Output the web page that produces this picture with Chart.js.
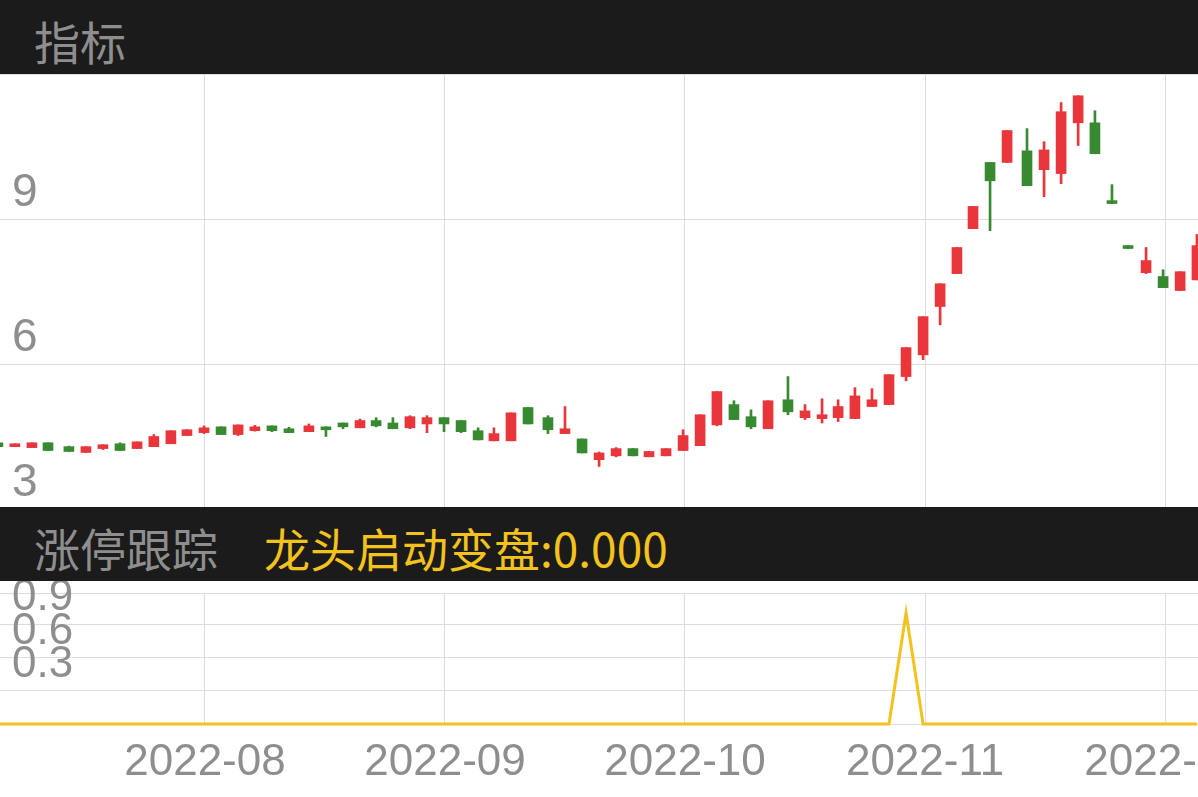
<!DOCTYPE html>
<html>
<head>
<meta charset="utf-8">
<script src="https://cdn.jsdelivr.net/npm/chart.js@4.4.1/dist/chart.umd.min.js"></script>
<style>
    body { margin: 0; width: 1198px; height: 797px; overflow: hidden; position: relative; background: #fff; }
    .band { position: absolute; left: 0; width: 1198px; height: 74px; background: #1b1b1b; z-index: 2;
            font-family: "Noto Sans CJK SC", sans-serif; font-size: 46px; line-height: 74px; white-space: nowrap; }
    .band span { position: absolute; top: 3px; }
    .title { color: #8e8e8e; left: 34px; }
    .value { color: #f4c21d; left: 264px; }
    canvas { position: absolute; left: 0; }
</style>
</head>
<body>
<div class="band" style="top:0"><span class="title">指标</span></div>
<canvas id="klineChart" width="1400" height="435" style="top:74px"></canvas>
<div class="band" style="top:507px"><span class="title">涨停跟踪</span><span class="value">龙头启动变盘:0.000</span></div>
<canvas id="signalChart" width="1400" height="216" style="top:581px"></canvas>

<script>
// Candles: position in months from 2022-08, then OHLC
const monthPos = [-0.863, -0.792, -0.721, -0.654, -0.567, -0.496, -0.425, -0.354, -0.283, -0.213,
    -0.142, -0.075, -0.004, 0.067, 0.138, 0.208, 0.279, 0.35, 0.433, 0.504,
    0.575, 0.646, 0.713, 0.783, 0.854, 0.925, 0.996, 1.067, 1.138, 1.204,
    1.275, 1.346, 1.429, 1.5, 1.571, 1.642, 1.713, 1.783, 1.85, 1.921,
    1.992, 2.063, 2.133, 2.204, 2.275, 2.346, 2.429, 2.5, 2.571, 2.638,
    2.708, 2.779, 2.85, 2.921, 2.992, 3.063, 3.133, 3.2, 3.271, 3.342,
    3.425, 3.496, 3.567, 3.638, 3.708, 3.779, 3.846, 3.921, 3.992, 4.063, 4.133];

const opens = [4.37, 4.29, 4.27, 4.37, 4.29, 4.17, 4.25, 4.35, 4.25, 4.29,
    4.35, 4.52, 4.58, 4.70, 4.54, 4.62, 4.72, 4.66, 4.60, 4.70,
    4.78, 4.68, 4.83, 4.78, 4.68, 4.76, 4.89, 4.83, 4.62, 4.41,
    4.41, 5.10, 4.89, 4.56, 4.45, 4.02, 4.10, 4.25, 4.08, 4.10,
    4.21, 4.31, 4.74, 5.16, 4.91, 4.66, 5.26, 4.89, 4.87, 4.89,
    4.87, 5.12, 5.16, 5.74, 6.19, 7.19, 7.87, 8.80, 10.17, 10.17,
    10.41, 10.02, 9.94, 10.99, 10.99, 9.38, 8.45, 7.89, 7.81, 7.52, 7.74];

const highs = [4.37, 4.35, 4.37, 4.37, 4.30, 4.29, 4.33, 4.37, 4.39, 4.54,
    4.62, 4.64, 4.72, 4.70, 4.74, 4.73, 4.72, 4.69, 4.76, 4.70,
    4.78, 4.86, 4.89, 4.89, 4.93, 4.93, 4.89, 4.83, 4.68, 4.68,
    4.99, 5.10, 4.93, 5.12, 4.45, 4.18, 4.27, 4.25, 4.19, 4.25,
    4.64, 4.95, 5.43, 5.24, 5.05, 5.24, 5.74, 5.16, 5.28, 5.26,
    5.51, 5.49, 5.78, 6.34, 6.98, 7.66, 8.41, 9.26, 10.17, 10.83,
    10.87, 10.60, 11.41, 11.55, 11.24, 9.71, 8.45, 8.41, 7.95, 7.91, 8.68];

const lows = [4.29, 4.29, 4.27, 4.21, 4.19, 4.17, 4.23, 4.21, 4.25, 4.29,
    4.35, 4.52, 4.56, 4.54, 4.52, 4.61, 4.60, 4.58, 4.60, 4.50,
    4.66, 4.68, 4.70, 4.66, 4.66, 4.58, 4.60, 4.58, 4.43, 4.41,
    4.41, 4.76, 4.56, 4.56, 4.16, 3.88, 4.08, 4.10, 4.08, 4.10,
    4.21, 4.31, 4.72, 4.85, 4.66, 4.66, 4.95, 4.85, 4.78, 4.81,
    4.87, 5.12, 5.16, 5.65, 6.09, 6.81, 7.87, 8.80, 8.76, 10.17,
    9.69, 9.46, 9.73, 10.52, 10.35, 9.32, 8.39, 7.87, 7.58, 7.52, 7.74];

const closes = [4.29, 4.35, 4.37, 4.21, 4.19, 4.29, 4.33, 4.21, 4.39, 4.50,
    4.62, 4.64, 4.68, 4.54, 4.74, 4.70, 4.62, 4.58, 4.72, 4.64,
    4.70, 4.83, 4.72, 4.66, 4.91, 4.89, 4.76, 4.60, 4.43, 4.56,
    4.99, 4.76, 4.64, 4.66, 4.16, 4.16, 4.25, 4.10, 4.19, 4.25,
    4.52, 4.95, 5.43, 4.85, 4.70, 5.24, 5.01, 5.03, 4.95, 5.12,
    5.34, 5.26, 5.78, 6.34, 6.98, 7.66, 8.41, 9.26, 9.79, 10.83,
    9.69, 10.43, 11.22, 11.55, 10.35, 9.32, 8.39, 8.14, 7.58, 7.91, 8.45];

// 龙头启动变盘 signal
const signal = [0, 0, 0, 0, 0, 0, 0, 0, 0, 0,
    0, 0, 0, 0, 0, 0, 0, 0, 0, 0,
    0, 0, 0, 0, 0, 0, 0, 0, 0, 0,
    0, 0, 0, 0, 0, 0, 0, 0, 0, 0,
    0, 0, 0, 0, 0, 0, 0, 0, 0, 0,
    0, 0, 0, 1, 0, 0, 0, 0, 0, 0,
    0, 0, 0, 0, 0, 0, 0, 0, 0, 0, 0];

const monthTicks = [0, 1, 2, 3, 4];
const monthLabels = ['2022-08', '2022-09', '2022-10', '2022-11', '2022-12'];
const priceTicks = [3, 6, 9, 12];
const signalTicks = [0, 0.3, 0.6, 0.9, 1.18];

const UP = '#e8363b';
const DOWN = '#378a2f';
const GRID = '#dcdce8';
const LABEL = '#8e8e8e';
const xMin = -0.854;
const xMax = 4.979;

Chart.defaults.font.family = '"Liberation Sans", Arial, sans-serif';
Chart.defaults.color = LABEL;
Chart.defaults.animation = false;

const candleColors = opens.map((o, i) => closes[i] >= o ? UP : DOWN);

function noPadding(scale) {
    scale.paddingTop = 0;
    scale.paddingBottom = 0;
    scale.paddingLeft = 0;
    scale.paddingRight = 0;
}

function monthAxis(showLabels) {
    return {
        type: 'linear',
        min: xMin,
        max: xMax,
        offset: false,
        afterBuildTicks: s => { s.ticks = monthTicks.map(v => ({ value: v })); },
        afterFit: s => { noPadding(s); s.height = showLabels ? 73 : 0; },
        grid: { color: GRID, drawTicks: false, offset: false },
        border: { display: false },
        ticks: {
            display: showLabels,
            padding: 12,
            maxRotation: 0,
            autoSkip: false,
            font: { size: 44 },
            callback: (v) => monthLabels[monthTicks.indexOf(v)]
        }
    };
}

function valueAxis(min, max, tickValues, size, format) {
    return {
        min: min,
        max: max,
        afterBuildTicks: s => { s.ticks = tickValues.map(v => ({ value: v })); },
        afterFit: s => { noPadding(s); s.width = 0; },
        grid: { color: GRID, drawTicks: false },
        border: { display: false },
        ticks: {
            mirror: true,
            autoSkip: false,
            padding: 12,
            labelOffset: -26,
            font: { size: size },
            callback: format
        }
    };
}

const klineCtx = document.getElementById('klineChart').getContext('2d');
const klineChart = new Chart(klineCtx, {
    type: 'bar',
    data: {
        datasets: [{
            label: 'wick',
            data: monthPos.map((t, i) => ({ x: t, y: [lows[i], highs[i]] })),
            backgroundColor: candleColors,
            barThickness: 2,
            grouped: false
        }, {
            label: 'body',
            data: monthPos.map((t, i) => ({ x: t, y: [opens[i], closes[i]] })),
            backgroundColor: candleColors,
            barThickness: 10,
            minBarLength: 2,
            grouped: false
        }]
    },
    options: {
        responsive: false,
        layout: { padding: 0 },
        plugins: { legend: { display: false }, tooltip: { enabled: false } },
        scales: {
            x: monthAxis(false),
            y: valueAxis(3, 12, priceTicks, 46, v => v === 12 ? '' : String(v))
        }
    }
});

const signalCtx = document.getElementById('signalChart').getContext('2d');
const signalChart = new Chart(signalCtx, {
    type: 'line',
    data: {
        datasets: [{
            label: '龙头启动变盘',
            data: monthPos.map((t, i) => ({ x: t, y: signal[i] })),
            borderColor: '#f4c21d',
            borderWidth: 3,
            pointRadius: 0,
            tension: 0,
            clip: false
        }]
    },
    options: {
        responsive: false,
        layout: { padding: { top: 12, left: 0, right: 0, bottom: 0 } },
        plugins: { legend: { display: false }, tooltip: { enabled: false } },
        scales: {
            x: monthAxis(true),
            y: valueAxis(0, 1.18, signalTicks, 44, v => (v > 0 && v < 1) ? v.toFixed(1) : '')
        }
    }
});
</script>
</body>
</html>
